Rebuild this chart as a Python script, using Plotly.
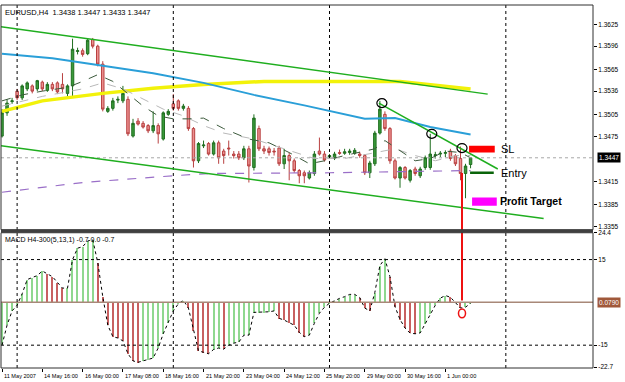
import plotly.graph_objects as go

# ---------------- data ----------------
bar_index = list(range(94))
opens = [1.3476,1.3507,1.3522,1.3536,1.3527,1.3539,1.3543,1.3539,1.3548,1.3537,
         1.3545,1.3547,1.3545,1.3533,1.3543,1.3589,1.3590,1.3586,1.3605,1.3596,
         1.3572,1.3509,1.3513,1.3524,1.3523,1.3525,1.3476,1.3496,1.3493,1.3490,
         1.3483,1.3490,1.3472,1.3505,1.3519,1.3523,1.3513,1.3513,1.3486,1.3443,
         1.3463,1.3466,1.3452,1.3467,1.3456,1.3460,1.3452,1.3452,1.3447,1.3459,
         1.3434,1.3486,1.3459,1.3459,1.3456,1.3460,1.3439,1.3450,1.3443,1.3430,
         1.3427,1.3420,1.3426,1.3456,1.3452,1.3448,1.3447,1.3454,1.3453,1.3454,
         1.3453,1.3452,1.3450,1.3427,1.3439,1.3480,1.3505,1.3486,1.3443,1.3420,
         1.3434,1.3417,1.3432,1.3423,1.3434,1.3434,1.3450,1.3452,1.3453,1.3456,
         1.3450,1.3446,1.3426,1.3438]
highs = [1.3512,1.3525,1.3527,1.3539,1.3545,1.3549,1.3545,1.3551,1.3550,1.3548,
         1.3548,1.3549,1.3560,1.3545,1.3606,1.3594,1.3593,1.3606,1.3607,1.3598,
         1.3576,1.3516,1.3527,1.3529,1.3543,1.3529,1.3499,1.3500,1.3496,1.3492,
         1.3509,1.3493,1.3509,1.3512,1.3532,1.3525,1.3519,1.3516,1.3488,1.3468,
         1.3470,1.3468,1.3470,1.3470,1.3459,1.3470,1.3456,1.3456,1.3463,1.3463,
         1.3505,1.3490,1.3463,1.3462,1.3460,1.3463,1.3459,1.3454,1.3446,1.3432,
         1.3430,1.3430,1.3456,1.3474,1.3456,1.3452,1.3455,1.3458,1.3459,1.3459,
         1.3460,1.3455,1.3452,1.3443,1.3483,1.3523,1.3509,1.3488,1.3446,1.3436,
         1.3436,1.3432,1.3435,1.3435,1.3450,1.3479,1.3455,1.3456,1.3457,1.3459,
         1.3452,1.3462,1.3439,1.3447]
lows = [1.3474,1.3503,1.3519,1.3524,1.3524,1.3536,1.3533,1.3536,1.3536,1.3535,
        1.3536,1.3532,1.3533,1.3529,1.3529,1.3585,1.3582,1.3584,1.3593,1.3569,
        1.3509,1.3507,1.3510,1.3520,1.3520,1.3476,1.3474,1.3490,1.3486,1.3480,
        1.3480,1.3466,1.3470,1.3503,1.3510,1.3510,1.3510,1.3483,1.3434,1.3440,
        1.3460,1.3450,1.3450,1.3439,1.3439,1.3450,1.3446,1.3444,1.3444,1.3414,
        1.3430,1.3456,1.3452,1.3450,1.3450,1.3436,1.3432,1.3417,1.3427,1.3413,
        1.3413,1.3418,1.3423,1.3450,1.3442,1.3446,1.3444,1.3451,1.3451,1.3451,
        1.3451,1.3447,1.3424,1.3420,1.3436,1.3478,1.3483,1.3439,1.3418,1.3407,
        1.3418,1.3414,1.3423,1.3420,1.3431,1.3431,1.3446,1.3448,1.3448,1.3443,
        1.3436,1.3417,1.3393,1.3433]
closes = [1.3507,1.3520,1.3523,1.3527,1.3543,1.3547,1.3536,1.3550,1.3539,1.3545,
          1.3539,1.3535,1.3539,1.3543,1.3592,1.3590,1.3585,1.3604,1.3596,1.3572,
          1.3512,1.3513,1.3523,1.3525,1.3533,1.3479,1.3493,1.3492,1.3488,1.3483,
          1.3490,1.3479,1.3507,1.3509,1.3513,1.3513,1.3516,1.3486,1.3443,1.3466,
          1.3464,1.3452,1.3467,1.3447,1.3450,1.3459,1.3450,1.3447,1.3459,1.3436,
          1.3500,1.3459,1.3456,1.3454,1.3455,1.3439,1.3450,1.3443,1.3430,1.3423,
          1.3423,1.3427,1.3452,1.3452,1.3444,1.3450,1.3452,1.3453,1.3455,1.3456,
          1.3457,1.3450,1.3427,1.3440,1.3480,1.3512,1.3486,1.3443,1.3420,1.3434,
          1.3420,1.3430,1.3426,1.3432,1.3447,1.3452,1.3451,1.3453,1.3454,1.3446,
          1.3439,1.3426,1.3436,1.3447]

# moving averages (read at selected bars)
blue_ma_x = [0, 10, 20, 30, 40, 50, 60, 67, 72, 78, 85, 93]
blue_ma_y = [1.3586,1.3580,1.3570,1.3560,1.3547,1.3531,1.3517,1.3507,1.3499,1.3500,1.3488,1.3478]
yellow_ma_x = [0, 8, 20, 30, 40, 52, 65, 79, 93]
yellow_ma_y = [1.3509,1.3523,1.3533,1.3540,1.3545,1.3549,1.3549,1.3549,1.3539]
purple_ma_x = [0, 16, 34, 41, 65, 93]
purple_ma_y = [1.3401,1.3414,1.3423,1.3426,1.3427,1.3430]
fast_ma_x = [0,4,8,13,16,19,22,25,28,31,34,37,40,44,49,53,57,61,64,68,71,74,76,79,82,85,88,91,93]
fast_ma_y = [1.3523,1.3531,1.3536,1.3541,1.3549,1.3558,1.3549,1.3533,1.3516,1.3503,1.3499,1.3499,
             1.3500,1.3486,1.3472,1.3467,1.3454,1.3439,1.3443,1.3450,1.3454,1.3459,1.3470,1.3456,
             1.3443,1.3446,1.3456,1.3454,1.3447]
slow_ma_x = [0,8,16,20,24,28,32,36,40,44,50,56,62,68,74,78,82,86,90,93]
slow_ma_y = [1.3516,1.3529,1.3539,1.3547,1.3539,1.3525,1.3512,1.3503,1.3490,1.3480,1.3472,1.3459,
             1.3446,1.3446,1.3454,1.3459,1.3450,1.3443,1.3450,1.3450]

macd = [-15,-8,-3,-1,3,8,8.7,9.4,11,10,9,7,5,5,15,19,19.5,21.5,22,14,
        2,-8,-12,-12.5,-13.5,-18,-20.5,-21,-20.5,-20,-19.5,-16,-11,-7,-3,-0.5,0.7,-2,-10,-17,
        -17.5,-18,-16.5,-16,-16.4,-15,-14.3,-13.9,-11.5,-11.5,-3.5,-3.5,-3.5,-3.3,-3,-5.6,-6.2,-7,-8,-10.5,
        -12,-11.5,-7.3,-3.8,-1.7,-0.3,0.7,1.4,2,2.8,2.8,1.7,-2,-3,3.5,12.9,15.3,9,-1.5,-6,
        -9,-10.8,-11,-10.7,-7.5,-4,-1,1.5,2.4,1.8,0,-2,-1.7,-0.3]

date_ticks = [0, 8, 16, 24, 32, 40, 48, 56, 64, 72, 80, 88]
date_labels = ["11 May 2007", "14 May 16:00", "16 May 00:00", "17 May 08:00", "18 May 16:00",
               "21 May 20:00", "23 May 04:00", "24 May 12:00", "25 May 20:00", "29 May 00:00",
               "30 May 16:00", "1 Jun 00:00"]
week_separators = [3, 34, 65, 100]
price_ticks = [1.3625, 1.3596, 1.3565, 1.3536, 1.3505, 1.3475, 1.3415, 1.3385, 1.3355]
macd_ticks = [24.4, 15, -15, -22.7]
macd_tick_text = ["24.4", "15", "-15", "-22.7"]
last_price = 1.3447

# trade setup levels
sl_level = (1.3454, 1.3463)
entry_level = 1.3427
tp_level = (1.3383, 1.3394)

# ---------------- figure ----------------
FONT = "Liberation Sans"
fig = go.Figure()

fig.add_trace(go.Scatter(x=yellow_ma_x, y=yellow_ma_y, mode="lines",
                         line=dict(color="#f2f20a", width=3.5), xaxis="x", yaxis="y"))
fig.add_trace(go.Scatter(x=blue_ma_x, y=blue_ma_y, mode="lines",
                         line=dict(color="#2a9fd8", width=2), xaxis="x", yaxis="y"))
fig.add_trace(go.Scatter(x=purple_ma_x, y=purple_ma_y, mode="lines",
                         line=dict(color="#9a6fc8", width=1.2, dash="dash"), xaxis="x", yaxis="y"))
fig.add_trace(go.Scatter(x=slow_ma_x, y=slow_ma_y, mode="lines",
                         line=dict(color="#b8b8b8", width=1, dash="dash"), xaxis="x", yaxis="y"))
fig.add_trace(go.Scatter(x=fast_ma_x, y=fast_ma_y, mode="lines",
                         line=dict(color="#3c5a3c", width=1, dash="dash"), xaxis="x", yaxis="y"))

fig.add_trace(go.Candlestick(
    x=bar_index, open=opens, high=highs, low=lows, close=closes,
    increasing=dict(line=dict(color="#1f6e1f", width=1), fillcolor="#3a9a3a"),
    decreasing=dict(line=dict(color="#b84040", width=1), fillcolor="#ec9090"),
    whiskerwidth=0, xaxis="x", yaxis="y"))

bar_colors = ["#8fd88f" if (k == 0 or macd[k] >= macd[k - 1]) else "#c86060" for k in range(len(macd))]
fig.add_trace(go.Bar(x=bar_index, y=macd, marker=dict(color=bar_colors, line=dict(width=0)),
                     width=0.24, xaxis="x", yaxis="y2"))
fig.add_trace(go.Scatter(x=bar_index, y=macd, mode="lines",
                         line=dict(color="#000000", width=1, dash="dot"), xaxis="x", yaxis="y2"))

shapes = []
shapes.append(dict(type="line", xref="paper", yref="y", x0=0, x1=1, y0=last_price, y1=last_price,
                   line=dict(color="#a8a8a8", width=1, dash="dot")))
for lv in (15, -15):
    shapes.append(dict(type="line", xref="paper", yref="y2", x0=0, x1=1, y0=lv, y1=lv,
                       line=dict(color="#000000", width=1, dash="dot")))
shapes.append(dict(type="line", xref="paper", yref="y2", x0=0, x1=1, y0=0, y1=0,
                   line=dict(color="#a88878", width=1.5)))
for s in week_separators:
    shapes.append(dict(type="line", xref="x", yref="paper", x0=s, x1=s, y0=0, y1=1,
                       line=dict(color="#000000", width=1, dash="dot")))
shapes.append(dict(type="line", xref="x", yref="y", x0=-0.2, y0=1.3622, x1=96.4, y1=1.3532,
                   line=dict(color="#1fae1f", width=1.5)))
shapes.append(dict(type="line", xref="x", yref="y", x0=-0.2, y0=1.3463, x1=107.5, y1=1.3366,
                   line=dict(color="#1fae1f", width=1.5)))
shapes.append(dict(type="line", xref="x", yref="y", x0=74.8, y0=1.3520, x1=98.4, y1=1.3432,
                   line=dict(color="#1fae1f", width=1.5)))
for cx, cy in ((75.4, 1.3520), (85.3, 1.3479), (91.3, 1.3460)):
    shapes.append(dict(type="circle", xref="x", yref="y", x0=cx - 1.0, x1=cx + 1.0,
                       y0=cy - 0.0006, y1=cy + 0.0006, line=dict(color="#000000", width=1.2)))
shapes.append(dict(type="rect", xref="x", yref="y", x0=92.7, x1=97.8, y0=sl_level[0], y1=sl_level[1],
                   fillcolor="#ff0000", line=dict(width=0)))
shapes.append(dict(type="line", xref="x", yref="y", x0=92.9, x1=97.6, y0=entry_level, y1=entry_level,
                   line=dict(color="#0a640a", width=2.5)))
shapes.append(dict(type="rect", xref="x", yref="y", x0=93.3, x1=98.2, y0=tp_level[0], y1=tp_level[1],
                   fillcolor="#ff00ff", line=dict(width=0)))
shapes.append(dict(type="line", xref="x", yref="paper", x0=91.3, x1=91.3, y0=0.186, y1=0.537,
                   line=dict(color="#ee1111", width=2)))
shapes.append(dict(type="circle", xref="x", yref="y2", x0=90.6, x1=92.0, y0=-5.4, y1=-2.3,
                   line=dict(color="#ee1111", width=1.5)))
shapes.append(dict(type="rect", xref="paper", yref="paper", x0=0, x1=1, y0=0.381, y1=1,
                   line=dict(color="#303030", width=1)))
shapes.append(dict(type="rect", xref="paper", yref="paper", x0=0, x1=1, y0=0, y1=0.3726,
                   line=dict(color="#303030", width=1)))
shapes.append(dict(type="line", xref="paper", yref="paper", x0=0, x1=1, y0=0.377, y1=0.377,
                   line=dict(color="#404040", width=3)))

annotations = [
    dict(xref="paper", yref="paper", x=0.004, y=0.997, xanchor="left", yanchor="top",
         text="EURUSD,H4  1.3438 1.3447 1.3433 1.3447", showarrow=False,
         font=dict(family=FONT, size=7.5, color="#000000")),
    dict(xref="paper", yref="paper", x=0.004, y=0.37, xanchor="left", yanchor="top",
         text="MACD H4-300(5,13,1) -0.7 0.0 -0.7", showarrow=False,
         font=dict(family=FONT, size=7, color="#000000")),
    dict(xref="x", yref="y", x=98.7, y=1.34585, xanchor="left", yanchor="middle", text="SL",
         showarrow=False, font=dict(family=FONT, size=11, color="#000000")),
    dict(xref="x", yref="y", x=98.7, y=1.3427, xanchor="left", yanchor="middle", text="Entry",
         showarrow=False, font=dict(family=FONT, size=11, color="#000000")),
    dict(xref="x", yref="y", x=98.5, y=1.3389, xanchor="left", yanchor="middle", text="<b>Profit Target</b>",
         showarrow=False, font=dict(family=FONT, size=10.5, color="#000000")),
    dict(xref="paper", yref="y", x=1.007, y=last_price, xanchor="left", yanchor="middle",
         text="1.3447", showarrow=False, bgcolor="#000000", borderpad=1,
         font=dict(family=FONT, size=6.5, color="#ffffff")),
    dict(xref="paper", yref="y2", x=1.007, y=0, xanchor="left", yanchor="middle",
         text="0.0790", showarrow=False, bgcolor="#a0583a", borderpad=1,
         font=dict(family=FONT, size=6.5, color="#ffffff")),
]
for pos, lab in zip(date_ticks, date_labels):
    annotations.append(dict(xref="x", yref="paper", x=pos, y=-0.008, xanchor="left", yanchor="top",
                            text=lab, showarrow=False,
                            font=dict(family=FONT, size=5.6, color="#000000")))

fig.update_layout(
    width=625, height=382,
    margin=dict(l=1, r=32, t=3, b=14),
    paper_bgcolor="#ffffff", plot_bgcolor="#ffffff",
    showlegend=False, bargap=0,
    xaxis=dict(range=[-0.2, 117.3], anchor="y2", showgrid=False, zeroline=False,
               rangeslider=dict(visible=False), tickmode="array", tickvals=date_ticks,
               showticklabels=False, ticks="outside", ticklen=3, tickcolor="#000000"),
    yaxis=dict(domain=[0.381, 1], range=[1.3351, 1.3651], side="right", anchor="x",
               showgrid=False, zeroline=False, tickmode="array", tickvals=price_ticks,
               ticktext=[f"{v:.4f}" for v in price_ticks], ticks="outside", ticklen=3,
               tickcolor="#000000", tickfont=dict(family=FONT, size=6.5, color="#000000")),
    yaxis2=dict(domain=[0, 0.3726], range=[-23.0, 24.4], side="right", anchor="x",
                showgrid=False, zeroline=False, tickmode="array", tickvals=macd_ticks,
                ticktext=macd_tick_text, ticks="outside", ticklen=3, tickcolor="#000000",
                tickfont=dict(family=FONT, size=6.5, color="#000000")),
    shapes=shapes, annotations=annotations,
)

fig.write_html("out.html")
